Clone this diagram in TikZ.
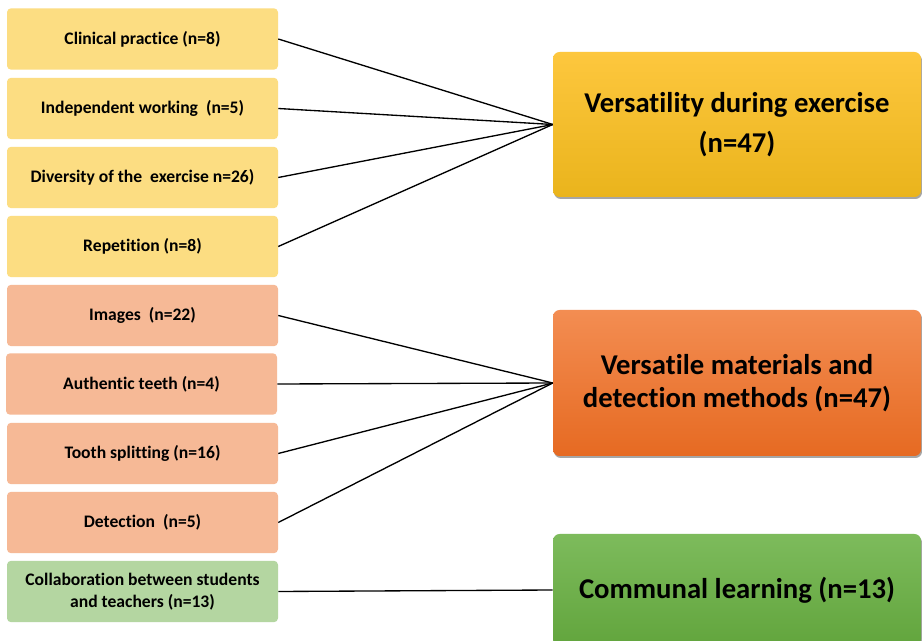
\documentclass[tikz,border=0pt]{standalone}
\usepackage{fontspec}
\setmainfont{Carlito}[Ligatures=NoCommon]
\usetikzlibrary{shadows}
\definecolor{ylw}{HTML}{FCDD82}
\definecolor{slm}{HTML}{F6B996}
\definecolor{grn}{HTML}{B4D6A1}
\definecolor{aTop}{HTML}{FDC73E}
\definecolor{aBot}{HTML}{EAB41C}
\definecolor{bTop}{HTML}{F38D52}
\definecolor{bBot}{HTML}{E66A22}
\definecolor{cTop}{HTML}{7DBB5C}
\definecolor{cBot}{HTML}{62A53D}
\begin{document}
\begin{tikzpicture}[x=0.75pt,y=-0.75pt,
  lbox/.style={rectangle, rounded corners=3pt, minimum width=203.25pt, minimum height=46pt,
    inner sep=0pt, align=center, font=\fontsize{13.2}{16}\selectfont\bfseries},
  rbox/.style={rectangle, rounded corners=5pt, minimum width=276pt, inner sep=0pt, align=center,
    font=\fontsize{21.5}{25}\selectfont\bfseries,
    drop shadow={shadow xshift=0.8pt, shadow yshift=-1.5pt, opacity=0.35, fill=black}},
  conn/.style={draw=black, line width=1pt}]
\useasboundingbox (0,0) rectangle (922,641);
\fill[white] (0,0) rectangle (922,641);
% left boxes
\node[lbox, fill=ylw] (l1) at (142.5,39) {Clinical practice (n=8)};
\node[lbox, fill=ylw] (l2) at (142.5,108.5) {Independent working\ \ (n=5)};
\node[lbox, fill=ylw] (l3) at (142.5,177.5) {Diversity of the\ \ exercise n=26)};
\node[lbox, fill=ylw] (l4) at (142.5,246.5) {Repetition (n=8)};
\node[lbox, fill=slm] (l5) at (142.5,315.5) {Images\ \ (n=22)};
\node[lbox, fill=slm] (l6) at (141.5,384) {Authentic teeth (n=4)};
\node[lbox, fill=slm] (l7) at (142.5,453.5) {Tooth splitting (n=16)};
\node[lbox, fill=slm] (l8) at (142.5,522.5) {Detection\ \ (n=5)};
\node[lbox, fill=grn] (l9) at (142.5,591.5) {Collaboration between students\\and teachers (n=13)};
% right boxes
\node[rbox, minimum height=108.75pt, top color=aTop, bottom color=aBot] (A) at (737,124.5)
  {Versatility during exercise\\[5pt](n=47)};
\node[rbox, minimum height=109.5pt, top color=bTop, bottom color=bBot] (B) at (737,383)
  {Versatile materials and\\detection methods (n=47)};
\node[rbox, minimum height=84pt, top color=cTop, bottom color=cBot] (C) at (737,590)
  {Communal learning (n=13)};
% connectors
\foreach \i in {1,2,3,4} \draw[conn] (l\i.east) -- (A.west);
\foreach \i in {5,6,7,8} \draw[conn] (l\i.east) -- (B.west);
\draw[conn] (l9.east) -- (C.west);
\end{tikzpicture}
\end{document}
